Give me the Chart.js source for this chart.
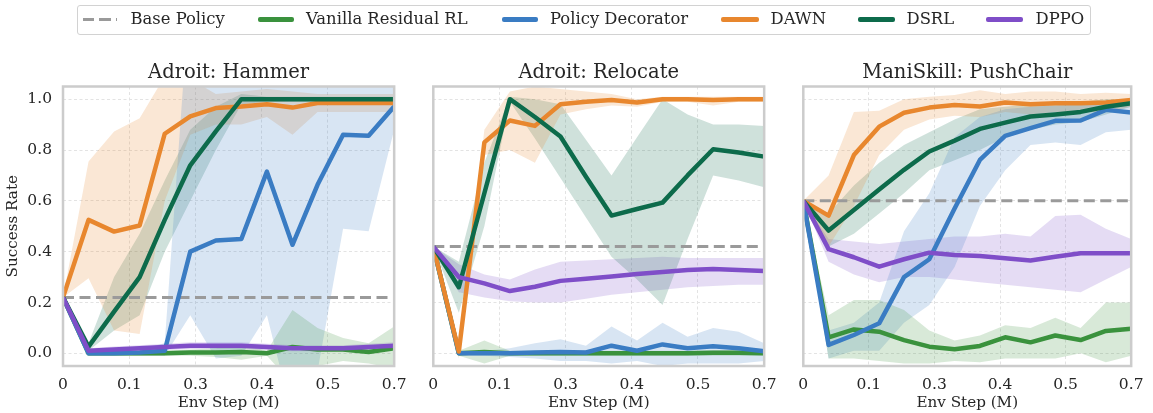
<!DOCTYPE html>
<html>
<head>
<meta charset="utf-8">
<script src="https://cdn.jsdelivr.net/npm/chart.js@4.4.1/dist/chart.umd.min.js"></script>
<style>
  html, body { margin: 0; padding: 0; background: #fff; }
  #wrap { position: relative; width: 1153px; height: 413px; overflow: hidden;
          font-family: "DejaVu Serif", serif; color: #262626; }
  .panel { position: absolute; top: 0; height: 413px; }
  #legend { position: absolute; left: 77px; top: 5px; width: 1014px; height: 30px;
            box-sizing: border-box; border: 1px solid #d2d2d2; border-radius: 3px; background: #fff; }
  .sw { position: absolute; top: 17px; height: 4.5px; border-radius: 2px; }
  .sw.dash { top: 17.5px; height: 3px; border-radius: 0;
             background: repeating-linear-gradient(to right, #9a9a9a 0 11.5px, transparent 11.5px 16.5px); }
  .lbl { position: absolute; top: 9px; line-height: 20px; font-size: 16.4px; white-space: nowrap; }
</style>
</head>
<body>
<div id="wrap">
  <div id="legend"></div>
  <div class="panel" style="left:0;width:416px"><canvas id="c0"></canvas></div>
  <div class="panel" style="left:416px;width:370px"><canvas id="c1"></canvas></div>
  <div class="panel" style="left:786px;width:367px"><canvas id="c2"></canvas></div>
</div>
<script>
// Environment steps (millions) at which each run was evaluated
const envSteps = [0, 0.054, 0.108, 0.162, 0.215, 0.269, 0.323, 0.377, 0.431, 0.485, 0.538, 0.592, 0.646, 0.7];
const xTickValues = [0, 0.14, 0.28, 0.42, 0.56, 0.7];
const xTickLabels = ['0', '0.1', '0.3', '0.4', '0.5', '0.7'];
const yTickValues = [0, 0.2, 0.4, 0.6, 0.8, 1.0];

const taskTitles = ['Adroit: Hammer', 'Adroit: Relocate', 'ManiSkill: PushChair'];
const basePolicy = [0.22, 0.42, 0.60];

const methodNames = ['Vanilla Residual RL', 'Policy Decorator', 'DAWN', 'DSRL', 'DPPO'];
const methodColors = ['#3a923d', '#3a7cc3', '#e8872e', '#0d6b4b', '#7f4ec8'];
const baseName = 'Base Policy';
const baseColor = '#9a9a9a';

// ---- Adroit: Hammer ----
const hammerVanilla   = [0.22, 0.0, 0.0, 0.0, 0.0, 0.003, 0.003, 0.005, 0.0, 0.025, 0.015, 0.015, 0.005, 0.02];
const hammerVanillaLo = [0.22, -0.01, -0.01, -0.01, -0.01, -0.01, -0.015, -0.025, -0.01, -0.12, -0.05, -0.03, -0.04, -0.06];
const hammerVanillaHi = [0.22, 0.01, 0.01, 0.01, 0.01, 0.015, 0.02, 0.035, 0.01, 0.17, 0.1, 0.06, 0.04, 0.105];
const hammerPD   = [0.22, 0.0, 0.0, 0.003, 0.01, 0.40, 0.444, 0.45, 0.715, 0.427, 0.663, 0.86, 0.856, 0.971];
const hammerPDLo = [0.22, -0.01, -0.01, -0.01, -0.01, 0.15, -0.02, -0.01, 0.15, -0.25, -0.07, 0.49, 0.48, 0.88];
const hammerPDHi = [0.22, 0.01, 0.01, 0.015, 0.04, 1.45, 1.25, 1.1, 1.3, 1.1, 1.2, 1.2, 1.15, 1.06];
const hammerDAWN   = [0.22, 0.525, 0.479, 0.503, 0.864, 0.932, 0.965, 0.971, 0.98, 0.967, 0.985, 0.985, 0.985, 0.985];
const hammerDAWNLo = [0.22, 0.295, 0.09, 0.076, 0.6, 0.86, 0.9, 0.9, 0.93, 0.86, 0.95, 0.95, 0.95, 0.95];
const hammerDAWNHi = [0.22, 0.755, 0.873, 0.925, 1.09, 1.08, 1.02, 1.03, 1.04, 1.03, 1.02, 1.02, 1.02, 1.02];
const hammerDSRL   = [0.22, 0.026, 0.164, 0.30, 0.525, 0.74, 0.873, 1.0, 1.0, 1.0, 1.0, 1.0, 1.0, 1.0];
const hammerDSRLLo = [0.22, 0.01, 0.09, 0.15, 0.40, 0.60, 0.80, 0.98, 0.99, 0.99, 0.99, 0.99, 0.99, 0.99];
const hammerDSRLHi = [0.22, 0.04, 0.30, 0.47, 0.68, 0.88, 0.97, 1.02, 1.01, 1.01, 1.01, 1.01, 1.01, 1.01];
const hammerDPPO   = [0.22, 0.01, 0.015, 0.02, 0.025, 0.03, 0.03, 0.03, 0.025, 0.02, 0.02, 0.02, 0.025, 0.03];
const hammerDPPOLo = [0.22, 0.0, 0.003, 0.008, 0.012, 0.017, 0.017, 0.017, 0.012, 0.008, 0.008, 0.008, 0.012, 0.017];
const hammerDPPOHi = [0.22, 0.02, 0.027, 0.032, 0.038, 0.043, 0.043, 0.043, 0.038, 0.032, 0.032, 0.032, 0.038, 0.043];

// ---- Adroit: Relocate ----
const relocVanilla   = [0.42, 0.0, 0.005, 0.0, 0.0, 0.0, 0.0, 0.0, 0.0, 0.0, 0.0, 0.002, 0.002, 0.0];
const relocVanillaLo = [0.42, -0.01, -0.04, -0.01, -0.01, -0.01, -0.01, -0.01, -0.01, -0.01, -0.01, -0.01, -0.01, -0.01];
const relocVanillaHi = [0.42, 0.01, 0.05, 0.01, 0.01, 0.01, 0.01, 0.01, 0.01, 0.01, 0.01, 0.012, 0.012, 0.01];
const relocPD   = [0.42, 0.0, 0.0, 0.0, 0.003, 0.005, 0.003, 0.03, 0.01, 0.035, 0.02, 0.028, 0.02, 0.008];
const relocPDLo = [0.42, -0.01, -0.01, -0.015, -0.02, -0.03, -0.03, -0.04, -0.03, -0.05, -0.04, -0.04, -0.04, -0.03];
const relocPDHi = [0.42, 0.01, 0.01, 0.02, 0.04, 0.055, 0.03, 0.105, 0.05, 0.12, 0.065, 0.10, 0.085, 0.04];
const relocDAWN   = [0.42, 0.007, 0.83, 0.916, 0.895, 0.98, 0.99, 0.997, 0.987, 1.0, 1.0, 0.997, 1.0, 1.0];
const relocDAWNLo = [0.42, -0.02, 0.78, 0.80, 0.75, 0.94, 0.96, 0.975, 0.97, 0.99, 0.99, 0.975, 0.99, 0.99];
const relocDAWNHi = [0.42, 0.03, 0.88, 1.03, 1.05, 1.04, 1.03, 1.02, 1.0, 1.01, 1.01, 1.01, 1.01, 1.01];
const relocDSRL   = [0.42, 0.26, 0.63, 1.0, 0.93, 0.853, 0.695, 0.542, 0.568, 0.593, 0.70, 0.803, 0.79, 0.774];
const relocDSRLLo = [0.42, 0.16, 0.50, 0.99, 0.845, 0.69, 0.534, 0.38, 0.29, 0.19, 0.45, 0.70, 0.68, 0.653];
const relocDSRLHi = [0.42, 0.36, 0.75, 1.01, 1.0, 0.98, 0.84, 0.70, 0.85, 1.0, 0.94, 0.9, 0.9, 0.895];
const relocDPPO   = [0.42, 0.30, 0.275, 0.245, 0.262, 0.285, 0.293, 0.302, 0.312, 0.32, 0.328, 0.332, 0.328, 0.324];
const relocDPPOLo = [0.42, 0.24, 0.22, 0.205, 0.20, 0.20, 0.215, 0.23, 0.24, 0.25, 0.26, 0.265, 0.27, 0.27];
const relocDPPOHi = [0.42, 0.35, 0.31, 0.29, 0.33, 0.36, 0.365, 0.37, 0.375, 0.38, 0.375, 0.375, 0.375, 0.375];

// ---- ManiSkill: PushChair ----
const pcVanilla   = [0.60, 0.063, 0.094, 0.085, 0.052, 0.026, 0.016, 0.029, 0.063, 0.043, 0.07, 0.052, 0.088, 0.097];
const pcVanillaLo = [0.60, -0.02, -0.02, -0.03, -0.04, -0.04, -0.03, -0.035, -0.02, -0.02, -0.02, 0.0, -0.035, -0.01];
const pcVanillaHi = [0.60, 0.15, 0.21, 0.21, 0.17, 0.09, 0.05, 0.07, 0.11, 0.10, 0.14, 0.10, 0.20, 0.20];
const pcPD   = [0.60, 0.033, 0.072, 0.118, 0.30, 0.37, 0.57, 0.761, 0.856, 0.886, 0.915, 0.916, 0.958, 0.948];
const pcPDLo = [0.60, -0.02, 0.01, 0.01, 0.12, 0.19, 0.34, 0.58, 0.72, 0.82, 0.83, 0.82, 0.87, 0.88];
const pcPDHi = [0.60, 0.09, 0.12, 0.20, 0.48, 0.63, 0.85, 0.93, 0.96, 0.97, 0.975, 0.98, 0.98, 0.99];
const pcDAWN   = [0.60, 0.542, 0.78, 0.892, 0.947, 0.967, 0.977, 0.971, 0.987, 0.98, 0.984, 0.984, 0.987, 0.997];
const pcDAWNLo = [0.60, 0.42, 0.58, 0.78, 0.88, 0.92, 0.935, 0.93, 0.95, 0.94, 0.95, 0.95, 0.95, 0.97];
const pcDAWNHi = [0.60, 0.70, 0.95, 0.955, 1.0, 1.01, 1.017, 1.035, 1.02, 1.03, 1.03, 1.02, 1.025, 1.02];
const pcDSRL   = [0.60, 0.483, 0.564, 0.645, 0.722, 0.794, 0.837, 0.883, 0.908, 0.932, 0.94, 0.95, 0.97, 0.984];
const pcDSRLLo = [0.60, 0.42, 0.47, 0.55, 0.63, 0.72, 0.76, 0.80, 0.85, 0.88, 0.90, 0.91, 0.94, 0.97];
const pcDSRLHi = [0.60, 0.55, 0.66, 0.75, 0.82, 0.87, 0.92, 0.96, 0.97, 0.98, 0.985, 0.99, 1.0, 1.0];
const pcDPPO   = [0.60, 0.41, 0.378, 0.341, 0.37, 0.396, 0.387, 0.383, 0.374, 0.365, 0.38, 0.394, 0.394, 0.394];
const pcDPPOLo = [0.60, 0.36, 0.31, 0.28, 0.30, 0.30, 0.29, 0.28, 0.27, 0.26, 0.25, 0.24, 0.29, 0.34];
const pcDPPOHi = [0.60, 0.45, 0.44, 0.43, 0.44, 0.45, 0.46, 0.46, 0.47, 0.46, 0.54, 0.545, 0.49, 0.45];

// mean / lower / upper per method, in methodNames order
const taskSeries = [
  [[hammerVanilla, hammerVanillaLo, hammerVanillaHi], [hammerPD, hammerPDLo, hammerPDHi],
   [hammerDAWN, hammerDAWNLo, hammerDAWNHi], [hammerDSRL, hammerDSRLLo, hammerDSRLHi],
   [hammerDPPO, hammerDPPOLo, hammerDPPOHi]],
  [[relocVanilla, relocVanillaLo, relocVanillaHi], [relocPD, relocPDLo, relocPDHi],
   [relocDAWN, relocDAWNLo, relocDAWNHi], [relocDSRL, relocDSRLLo, relocDSRLHi],
   [relocDPPO, relocDPPOLo, relocDPPOHi]],
  [[pcVanilla, pcVanillaLo, pcVanillaHi], [pcPD, pcPDLo, pcPDHi],
   [pcDAWN, pcDAWNLo, pcDAWNHi], [pcDSRL, pcDSRLLo, pcDSRLHi],
   [pcDPPO, pcDPPOLo, pcDPPOHi]]
];

const FONT = '"DejaVu Serif", serif';
const TEXT = '#262626';

function toPoints(values) { return values.map((v, i) => ({ x: envSteps[i], y: v })); }
function withAlpha(hex, a) {
  const n = parseInt(hex.slice(1), 16);
  return `rgba(${(n >> 16) & 255},${(n >> 8) & 255},${n & 255},${a})`;
}

// axes frame drawn over the data, like spines
const frame = {
  id: 'frame',
  afterDatasetsDraw(chart) {
    const { ctx, chartArea: a } = chart;
    ctx.save();
    ctx.strokeStyle = '#cccccc';
    ctx.lineWidth = 2.5;
    ctx.strokeRect(a.left, a.top, a.right - a.left, a.bottom - a.top);
    ctx.restore();
  }
};
// subplot title centred over the plotting area
const panelTitle = {
  id: 'panelTitle',
  afterDraw(chart, args, opts) {
    const { ctx, chartArea: a } = chart;
    ctx.save();
    ctx.font = '19.5px ' + FONT;
    ctx.fillStyle = TEXT;
    ctx.textAlign = 'center';
    ctx.textBaseline = 'alphabetic';
    ctx.fillText(opts.text, (a.left + a.right) / 2, 78);
    ctx.restore();
  }
};

const panelPadding = [
  { left: 0, right: 16, top: 86.5, bottom: 0 },
  { left: 17.3, right: 16.7, top: 86.5, bottom: 0 },
  { left: 17.3, right: 13.7, top: 86.5, bottom: 0 }
];

function buildDatasets(t) {
  const ds = [];
  // shaded spread bands
  taskSeries[t].forEach(([mean, lo, hi], m) => {
    ds.push({ data: toPoints(hi), borderWidth: 0, pointRadius: 0, fill: false, order: 20 });
    ds.push({ data: toPoints(lo), borderWidth: 0, pointRadius: 0, fill: '-1',
              backgroundColor: withAlpha(methodColors[m], 0.2), order: 20 });
  });
  // base policy reference
  ds.push({ label: baseName, data: [{ x: envSteps[0], y: basePolicy[t] }, { x: envSteps[envSteps.length - 1], y: basePolicy[t] }],
            borderColor: baseColor, borderWidth: 3, borderDash: [11, 5.5], pointRadius: 0, fill: false, order: 6 });
  // mean curves, later methods on top
  taskSeries[t].forEach(([mean], m) => {
    ds.push({ label: methodNames[m], data: toPoints(mean), borderColor: methodColors[m], borderWidth: 4.5,
              borderJoinStyle: 'round', pointRadius: 0, fill: false, tension: 0, order: 5 - m });
  });
  return ds;
}

for (let t = 0; t < 3; t++) {
  const showY = t === 0;
  new Chart(document.getElementById('c' + t), {
    type: 'line',
    data: { datasets: buildDatasets(t) },
    options: {
      responsive: true,
      maintainAspectRatio: false,
      animation: false,
      events: [],
      layout: { padding: panelPadding[t] },
      plugins: {
        legend: { display: false },
        tooltip: { enabled: false },
        filler: { drawTime: 'beforeDatasetsDraw', propagate: false },
        panelTitle: { text: taskTitles[t] }
      },
      scales: {
        x: {
          type: 'linear', min: 0, max: 0.7,
          afterBuildTicks: s => { s.ticks = xTickValues.map(v => ({ value: v })); },
          afterFit: s => { s.height = 47; },
          ticks: { callback: (v, i) => xTickLabels[i], font: { family: FONT, size: 15.5 }, color: TEXT,
                   padding: 9.5, maxRotation: 0, autoSkip: false },
          grid: { color: '#e3e3e3', lineWidth: 1, drawTicks: false },
          border: { display: false, dash: [3, 2.5] },
          title: { display: true, text: 'Env Step (M)', font: { family: FONT, size: 15.2 }, color: TEXT,
                   padding: { top: 0, bottom: 0.5 } }
        },
        y: {
          type: 'linear', min: -0.05, max: 1.05,
          afterBuildTicks: s => { s.ticks = yTickValues.map(v => ({ value: v })); },
          afterFit: s => { s.width = showY ? 63 : 0; },
          ticks: { display: showY, callback: v => v.toFixed(1), font: { family: FONT, size: 15.5 }, color: TEXT, padding: 11 },
          grid: { color: '#e3e3e3', lineWidth: 1, drawTicks: false },
          border: { display: false, dash: [3, 2.5] },
          title: { display: showY, text: 'Success Rate', font: { family: FONT, size: 15.2 }, color: TEXT,
                   padding: { top: 4, bottom: 0 } }
        }
      }
    },
    plugins: [frame, panelTitle]
  });
}

// legend row
const legendItems = [
  { name: baseName, color: baseColor, dashed: true, sw: [83, 117], tx: 130.5 },
  { name: methodNames[0], color: methodColors[0], sw: [258, 294], tx: 306 },
  { name: methodNames[1], color: methodColors[1], sw: [502, 538], tx: 550 },
  { name: methodNames[2], color: methodColors[2], sw: [721, 759], tx: 770.5 },
  { name: methodNames[3], color: methodColors[3], sw: [858, 895], tx: 906.5 },
  { name: methodNames[4], color: methodColors[4], sw: [986, 1023], tx: 1035.5 }
];
const wrap = document.getElementById('wrap');
legendItems.forEach(it => {
  const sw = document.createElement('div');
  sw.className = 'sw' + (it.dashed ? ' dash' : '');
  sw.style.left = it.sw[0] + 'px';
  sw.style.width = (it.sw[1] - it.sw[0]) + 'px';
  if (!it.dashed) sw.style.background = it.color;
  wrap.appendChild(sw);
  const tx = document.createElement('div');
  tx.className = 'lbl';
  tx.style.left = it.tx + 'px';
  tx.textContent = it.name;
  wrap.appendChild(tx);
});
</script>
</body>
</html>
